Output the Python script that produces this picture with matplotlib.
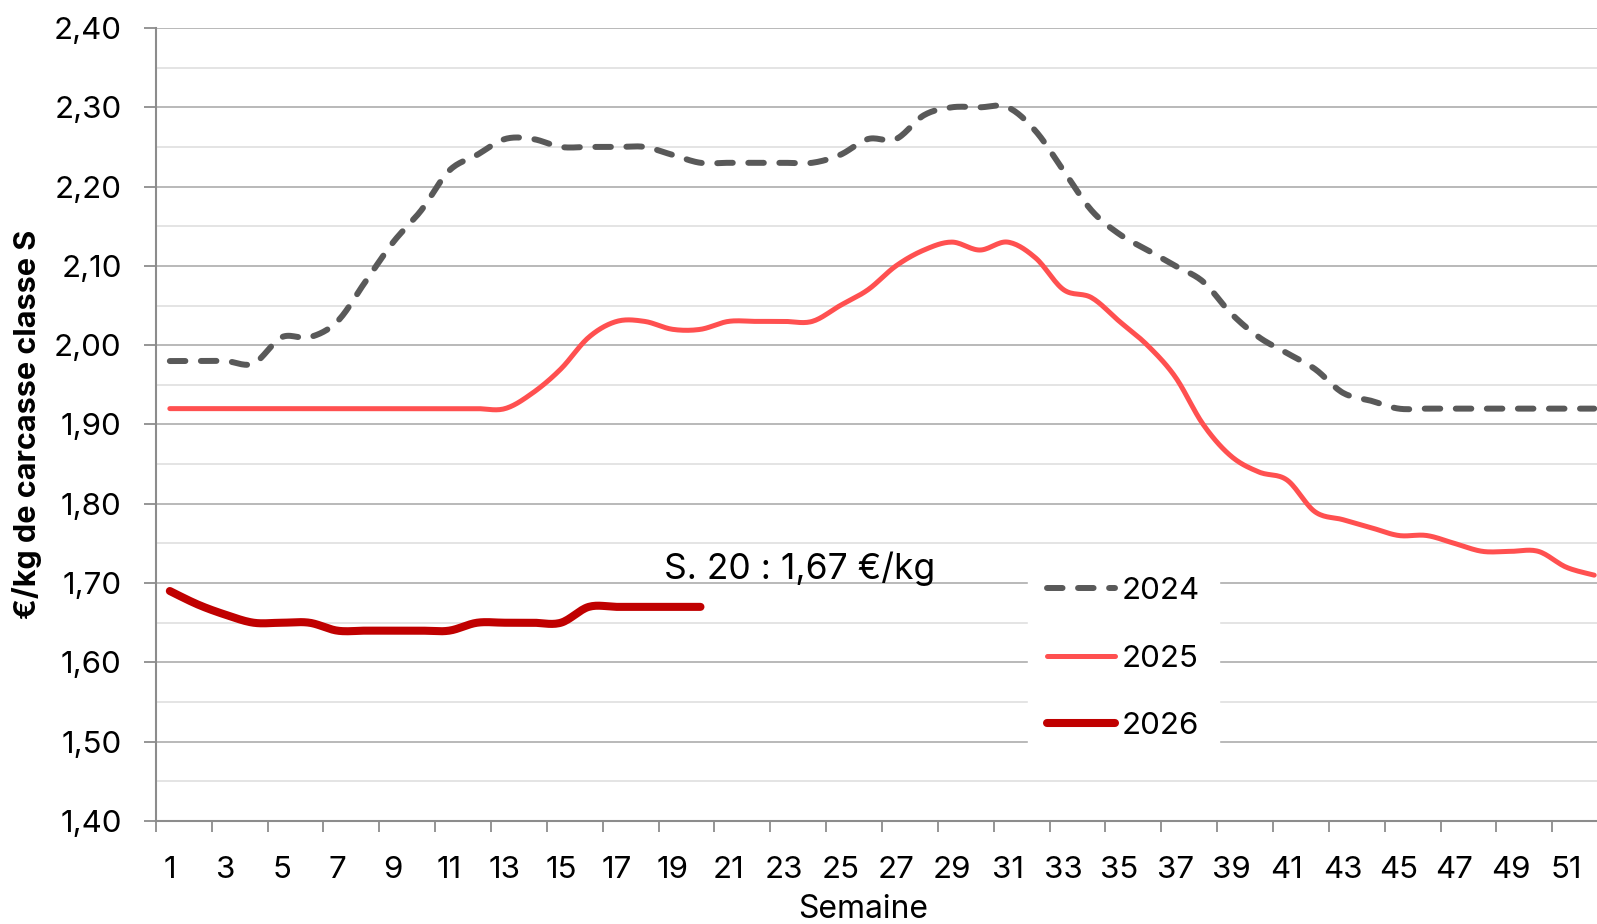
import numpy as np
import matplotlib
matplotlib.use("Agg")
import matplotlib.pyplot as plt
from matplotlib.ticker import FixedLocator, MultipleLocator, FuncFormatter, NullFormatter

plt.rcParams["font.family"] = ["Inter", "DejaVu Sans"]

# ---- data: prix €/kg de carcasse classe S, par semaine ----
WEEKS = list(range(1, 53))
PRIX_2024 = [1.98, 1.98, 1.98, 1.977, 2.01, 2.01, 2.03, 2.08, 2.13, 2.17,
             2.22, 2.24, 2.26, 2.26, 2.25, 2.25, 2.25, 2.25, 2.24, 2.23,
             2.23, 2.23, 2.23, 2.23, 2.24, 2.26, 2.26, 2.29, 2.30, 2.30,
             2.30, 2.27, 2.22, 2.17, 2.14, 2.12, 2.10, 2.08, 2.04, 2.01,
             1.99, 1.97, 1.94, 1.93, 1.92, 1.92, 1.92, 1.92, 1.92, 1.92,
             1.92, 1.92]
PRIX_2025 = [1.92, 1.92, 1.92, 1.92, 1.92, 1.92, 1.92, 1.92, 1.92, 1.92,
             1.92, 1.92, 1.92, 1.94, 1.97, 2.01, 2.03, 2.03, 2.02, 2.02,
             2.03, 2.03, 2.03, 2.03, 2.05, 2.07, 2.10, 2.12, 2.13, 2.12,
             2.13, 2.11, 2.07, 2.06, 2.03, 2.00, 1.96, 1.90, 1.86, 1.84,
             1.83, 1.79, 1.78, 1.77, 1.76, 1.76, 1.75, 1.74, 1.74, 1.74,
             1.72, 1.71]
PRIX_2026 = [1.69, 1.673, 1.66, 1.65, 1.65, 1.65, 1.64, 1.64, 1.64, 1.64,
             1.64, 1.65, 1.65, 1.65, 1.65, 1.67, 1.67, 1.67, 1.67, 1.67]
YEARS = ["2024", "2025", "2026"]
NOTE = "S. 20 : 1,67 €/kg"


def smooth(x, y, n=16):
    # courbe lissée façon Excel (Bezier / Catmull-Rom passant par chaque point)
    p = np.column_stack([x, y]).astype(float)
    out = [p[0]]
    t = np.linspace(0, 1, n + 1)[1:, None]
    for i in range(len(p) - 1):
        a = p[max(i - 1, 0)]
        b, c = p[i], p[i + 1]
        d = p[min(i + 2, len(p) - 1)]
        c1 = b + (c - a) / 6
        c2 = c - (d - b) / 6
        seg = ((1 - t) ** 3) * b + 3 * ((1 - t) ** 2) * t * c1 + 3 * (1 - t) * t ** 2 * c2 + t ** 3 * c
        out.extend(seg)
    out = np.array(out)
    return out[:, 0], out[:, 1]


fig = plt.figure(figsize=(15.97, 9.24), dpi=100)
ax = fig.add_axes([0.0976, 0.1115, 0.9024, 0.8582])

x24, y24 = smooth(WEEKS, PRIX_2024)
x25, y25 = smooth(WEEKS, PRIX_2025)
x26, y26 = smooth(WEEKS[:len(PRIX_2026)], PRIX_2026)

ax.plot(x24, y24, color="#595959", lw=4.3, dashes=(2.6, 2.6),
        dash_capstyle="round", solid_capstyle="round", label=YEARS[0], zorder=3)
ax.plot(x25, y25, color="#FF5050", lw=3.6, solid_capstyle="round", label=YEARS[1], zorder=3)
ax.plot(x26, y26, color="#C00000", lw=5.8, solid_capstyle="round", label=YEARS[2], zorder=4)

ax.text(18.7, 1.718, NOTE, fontsize=25.5, ha="left", va="center", color="black")

ax.set_xlim(0.5, 52.1)
ax.set_ylim(1.40, 2.40)

# axes / grid
ax.yaxis.set_major_locator(MultipleLocator(0.10))
ax.yaxis.set_minor_locator(MultipleLocator(0.05))
ax.yaxis.set_major_formatter(FuncFormatter(lambda v, _: f"{v:.2f}".replace(".", ",")))
ax.grid(axis="y", which="major", color="#a6a6a6", lw=1.1, zorder=0)
ax.grid(axis="y", which="minor", color="#dcdcdc", lw=1.1, zorder=0)
ax.set_axisbelow(True)

ax.xaxis.set_major_locator(FixedLocator(np.arange(0.5, 52.6, 2)))
ax.xaxis.set_major_formatter(NullFormatter())
ax.xaxis.set_minor_locator(FixedLocator(WEEKS[::2]))
ax.xaxis.set_minor_formatter(FuncFormatter(lambda v, _: f"{int(v)}"))

ax.tick_params(axis="y", which="major", direction="out", length=8.6, width=1.3,
               color="#8c8c8c", labelsize=22.5, pad=16)
ax.tick_params(axis="y", which="minor", length=0)
ax.tick_params(axis="x", which="major", direction="out", length=8, width=1.3, color="#8c8c8c")
ax.tick_params(axis="x", which="minor", length=0, labelsize=22.5, pad=25.5)

for side in ["top", "right"]:
    ax.spines[side].set_visible(False)
for side in ["left", "bottom"]:
    ax.spines[side].set_color("#8c8c8c")
    ax.spines[side].set_linewidth(1.5)

ax.set_ylabel("€/kg de carcasse classe S", fontsize=22, fontweight="bold")
ax.yaxis.set_label_coords(-0.079, 0.5)
ax.set_xlabel("Semaine", fontsize=23)
ax.xaxis.set_label_coords(0.491, -0.092)

leg = ax.legend(loc="upper left", bbox_to_anchor=(0.6437, 0.396), bbox_transform=fig.transFigure,
                fontsize=22.5, frameon=True, fancybox=False, borderaxespad=0, borderpad=0.6,
                handlelength=2.2, handletextpad=0.2, labelspacing=1.27)
leg.get_frame().set_facecolor("white")
leg.get_frame().set_edgecolor("white")
leg.get_frame().set_alpha(1)

fig.savefig("out.png", dpi=100)
